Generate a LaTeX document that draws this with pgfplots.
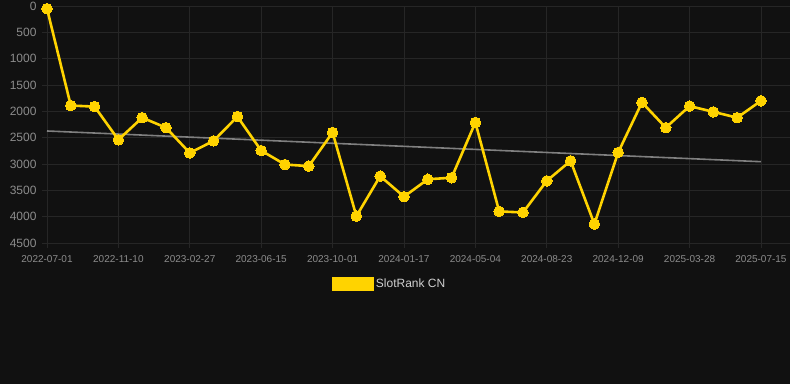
\documentclass[border=0pt]{standalone}
\usepackage{pgfplots}
\pgfplotsset{compat=1.18}
\usepackage{fontspec}
\setmainfont{Liberation Sans}
\definecolor{bg}{HTML}{111111}
\definecolor{gridc}{HTML}{262626}
\definecolor{tickc}{HTML}{8C8C8C}
\definecolor{gold}{HTML}{FFD300}
\definecolor{trend}{HTML}{808080}
\definecolor{legtext}{HTML}{D0D0D0}
\begin{document}
\begin{tikzpicture}
\fill[bg] (-42pt,-141pt) rectangle (748pt,243pt);
\useasboundingbox (-42pt,-141pt) rectangle (748pt,243pt);
\begin{axis}[
  at={(0pt,0pt)}, anchor=south west,
  scale only axis, width=748pt, height=237pt,
  xmin=-0.21, xmax=31.22, ymin=0, ymax=4500,
  y dir=reverse,
  axis line style={draw=none},
  xtick={0,3,...,30},
  xticklabels={2022-07-01,2022-11-10,2023-02-27,2023-06-15,2023-10-01,2024-01-17,2024-05-04,2024-08-23,2024-12-09,2025-03-28,2025-07-15},
  ytick={0,500,...,4500},
  grid=major,
  grid style={gridc, line width=0.8pt},
  major tick style={gridc, line width=0.8pt},
  xtick pos=bottom, ytick pos=left,
  tick align=outside,
  major tick length=5pt,
  y tick style={draw=none},
  /pgf/number format/1000 sep={},
  /pgf/number format/assume math mode=true,
  xticklabel style={font=\fontsize{10}{12}\selectfont, text=tickc, yshift=-4pt},
  yticklabel style={font=\fontsize{12}{14}\selectfont, text=tickc, xshift=3pt},
  legend style={at={(0.465,-0.173)}, anchor=center, draw=none, fill=none,
    font=\fontsize{12}{14}\selectfont, text=legtext},
  legend image code/.code={\fill[gold] (0pt,-5.5pt) rectangle (39pt,5.5pt);},
]
\addplot[trend, line width=1.6pt, forget plot] coordinates {(0,2373) (30,2956)};
\addplot[gold, line width=2.6pt, mark=*, mark size=5.3pt, mark options={fill=gold, draw=gold, line width=0pt}] coordinates {
(0,50) (1,1890) (2,1910) (3,2540) (4,2120) (5,2310) (6,2790) (7,2560) (8,2100) (9,2745)
(10,3010) (11,3040) (12,2400) (13,3990) (14,3230) (15,3620) (16,3290) (17,3260) (18,2210) (19,3900)
(20,3920) (21,3320) (22,2940) (23,4140) (24,2780) (25,1830) (26,2310) (27,1900) (28,2010) (29,2120) (30,1800)
};
\addlegendentry{SlotRank CN}
\end{axis}
\end{tikzpicture}
\end{document}
